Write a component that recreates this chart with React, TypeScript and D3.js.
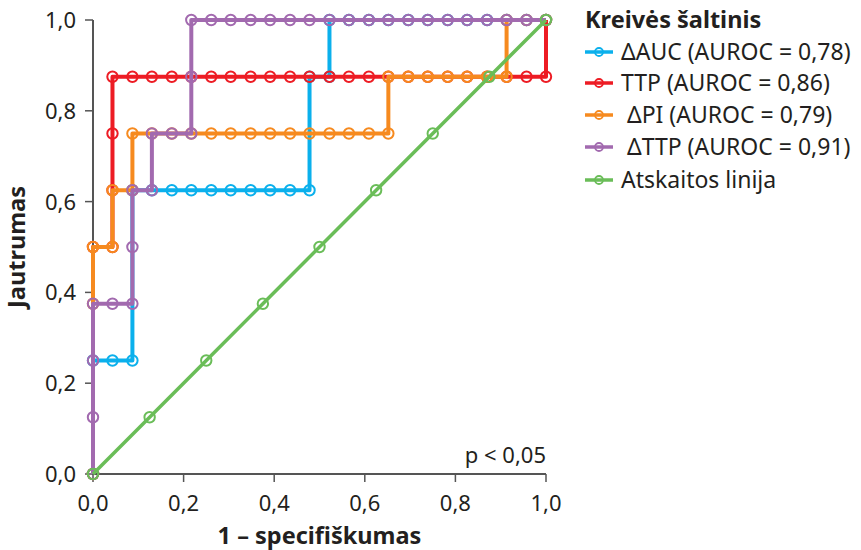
import React from 'react';
import * as d3 from 'd3';

// ROC points: [1 - specificity, sensitivity]
const aucPoints: [number, number][] = [
    [0, 0], [0, 0.25], [0.043, 0.25], [0.087, 0.25], [0.087, 0.625],
    [0.13, 0.625], [0.174, 0.625], [0.217, 0.625], [0.261, 0.625], [0.304, 0.625],
    [0.348, 0.625], [0.391, 0.625], [0.435, 0.625], [0.478, 0.625], [0.478, 0.875],
    [0.522, 0.875], [0.522, 1], [0.565, 1], [0.609, 1], [0.652, 1], [0.696, 1],
    [0.739, 1], [0.783, 1], [0.826, 1], [0.87, 1], [0.913, 1], [0.957, 1], [1, 1],
];

const ttpPoints: [number, number][] = [
    [0, 0], [0, 0.5], [0.043, 0.5], [0.043, 0.625], [0.043, 0.75], [0.043, 0.875],
    [0.087, 0.875], [0.13, 0.875], [0.174, 0.875], [0.217, 0.875], [0.261, 0.875],
    [0.304, 0.875], [0.348, 0.875], [0.391, 0.875], [0.435, 0.875], [0.478, 0.875],
    [0.522, 0.875], [0.565, 0.875], [0.609, 0.875], [0.652, 0.875], [0.696, 0.875],
    [0.739, 0.875], [0.783, 0.875], [0.826, 0.875], [0.87, 0.875], [0.913, 0.875],
    [0.957, 0.875], [1, 0.875], [1, 1],
];

const piPoints: [number, number][] = [
    [0, 0], [0, 0.375], [0, 0.5], [0.043, 0.5], [0.043, 0.625], [0.087, 0.625],
    [0.087, 0.75], [0.13, 0.75], [0.174, 0.75], [0.217, 0.75], [0.261, 0.75],
    [0.304, 0.75], [0.348, 0.75], [0.391, 0.75], [0.435, 0.75], [0.478, 0.75],
    [0.522, 0.75], [0.565, 0.75], [0.609, 0.75], [0.652, 0.75], [0.652, 0.875],
    [0.696, 0.875], [0.739, 0.875], [0.783, 0.875], [0.826, 0.875], [0.87, 0.875],
    [0.913, 0.875], [0.913, 1], [0.957, 1], [1, 1],
];

const dttpPoints: [number, number][] = [
    [0, 0], [0, 0.125], [0, 0.25], [0, 0.375], [0.043, 0.375], [0.087, 0.375],
    [0.087, 0.5], [0.087, 0.625], [0.13, 0.625], [0.13, 0.75], [0.174, 0.75],
    [0.217, 0.75], [0.217, 0.875], [0.217, 1], [0.261, 1], [0.304, 1], [0.348, 1],
    [0.391, 1], [0.435, 1], [0.478, 1], [0.522, 1], [0.565, 1], [0.609, 1],
    [0.652, 1], [0.696, 1], [0.739, 1], [0.783, 1], [0.826, 1], [0.87, 1],
    [0.913, 1], [0.957, 1], [1, 1],
];

const refPoints: [number, number][] = [
    [0, 0], [0.125, 0.125], [0.25, 0.25], [0.375, 0.375], [0.5, 0.5],
    [0.625, 0.625], [0.75, 0.75], [0.875, 0.875], [1, 1],
];

const seriesNames = [
    'ΔAUC (AUROC = 0,78)',
    'TTP (AUROC = 0,86)',
    ' ΔPI (AUROC = 0,79)',
    ' ΔTTP (AUROC = 0,91)',
    'Atskaitos linija',
];
const seriesColors = ['#0bb0ec', '#ed1c24', '#f68a1f', '#a26aaf', '#6abd58'];
const seriesData = [aucPoints, ttpPoints, piPoints, dttpPoints, refPoints];

const tickValues = [0, 0.2, 0.4, 0.6, 0.8, 1.0];

const W = 861;
const H = 550;
const margin = { top: 20, right: 315, bottom: 76, left: 93 };
const FONT = '"Noto Sans", "Open Sans", sans-serif';

export default function App() {
    const innerW = W - margin.left - margin.right;
    const innerH = H - margin.top - margin.bottom;

    const x = d3.scaleLinear().domain([0, 1]).range([0, innerW]);
    const y = d3.scaleLinear().domain([0, 1]).range([innerH, 0]);
    const line = d3.line<[number, number]>().x(d => x(d[0])).y(d => y(d[1]));
    const fmt = (v: number) => d3.format('.1f')(v).replace('.', ',');

    const axisColor = '#555';

    return (
        <div style={{ position: 'absolute', left: 0, top: 0 }}>
            <svg width={W} height={H} viewBox={`0 0 ${W} ${H}`} style={{ display: 'block', background: '#fff' }}>
                <g transform={`translate(${margin.left},${margin.top})`}>
                    {/* axes */}
                    <line x1={0} x2={0} y1={0} y2={innerH} stroke={axisColor} strokeWidth={2} />
                    <line x1={0} x2={innerW} y1={innerH} y2={innerH} stroke={axisColor} strokeWidth={2} />
                    {tickValues.map(t => (
                        <g key={'y' + t}>
                            <line x1={-8} x2={0} y1={y(t)} y2={y(t)} stroke={axisColor} strokeWidth={1.5} />
                            <text x={-17} y={y(t)} dy="0.36em" textAnchor="end" fontFamily={FONT} fontSize={22} fill="#231f20">{fmt(t)}</text>
                        </g>
                    ))}
                    {tickValues.map(t => (
                        <g key={'x' + t}>
                            <line x1={x(t)} x2={x(t)} y1={innerH} y2={innerH + 8} stroke={axisColor} strokeWidth={1.5} />
                            <text x={x(t)} y={innerH + 37} textAnchor="middle" fontFamily={FONT} fontSize={22} fill="#231f20">{fmt(t)}</text>
                        </g>
                    ))}

                    {/* curves */}
                    {seriesData.map((pts, i) => (
                        <g key={'s' + i}>
                            <path d={line(pts) || ''} fill="none" stroke={seriesColors[i]} strokeWidth={i === 4 ? 3.5 : 4} strokeLinejoin="round" />
                            {pts.map((p, k) => (
                                <circle key={k} cx={x(p[0])} cy={y(p[1])} r={5.2} fill="none" stroke={seriesColors[i]} strokeWidth={2} />
                            ))}
                        </g>
                    ))}

                    <text x={innerW} y={innerH - 11} textAnchor="end" fontFamily={FONT} fontSize={22} fill="#231f20">p &lt; 0,05</text>
                </g>

                {/* axis titles */}
                <text x={margin.left + innerW / 2} y={544} textAnchor="middle" fontFamily={FONT} fontSize={23.5} fontWeight="bold" fill="#231f20">1 – specifiškumas</text>
                <text transform={`translate(25,${margin.top + innerH / 2}) rotate(-90)`} textAnchor="middle" fontFamily={FONT} fontSize={23.5} fontWeight="bold" fill="#231f20">Jautrumas</text>

                {/* legend */}
                <g transform="translate(585,0)">
                    <text x={0} y={28} fontFamily={FONT} fontSize={23.5} fontWeight="bold" fill="#231f20">Kreivės šaltinis</text>
                    {seriesNames.map((name, i) => {
                        const cy = [52, 83, 115, 147, 180][i];
                        return (
                            <g key={name}>
                                <line x1={0} x2={28} y1={cy} y2={cy} stroke={seriesColors[i]} strokeWidth={3.5} />
                                <circle cx={14} cy={cy} r={4} fill="none" stroke={seriesColors[i]} strokeWidth={1.8} />
                                <text x={36} y={cy} dy="0.36em" fontFamily={FONT} fontSize={23} fill="#231f20" style={{ whiteSpace: 'pre' }}>{name}</text>
                            </g>
                        );
                    })}
                </g>
            </svg>
        </div>
    );
}
